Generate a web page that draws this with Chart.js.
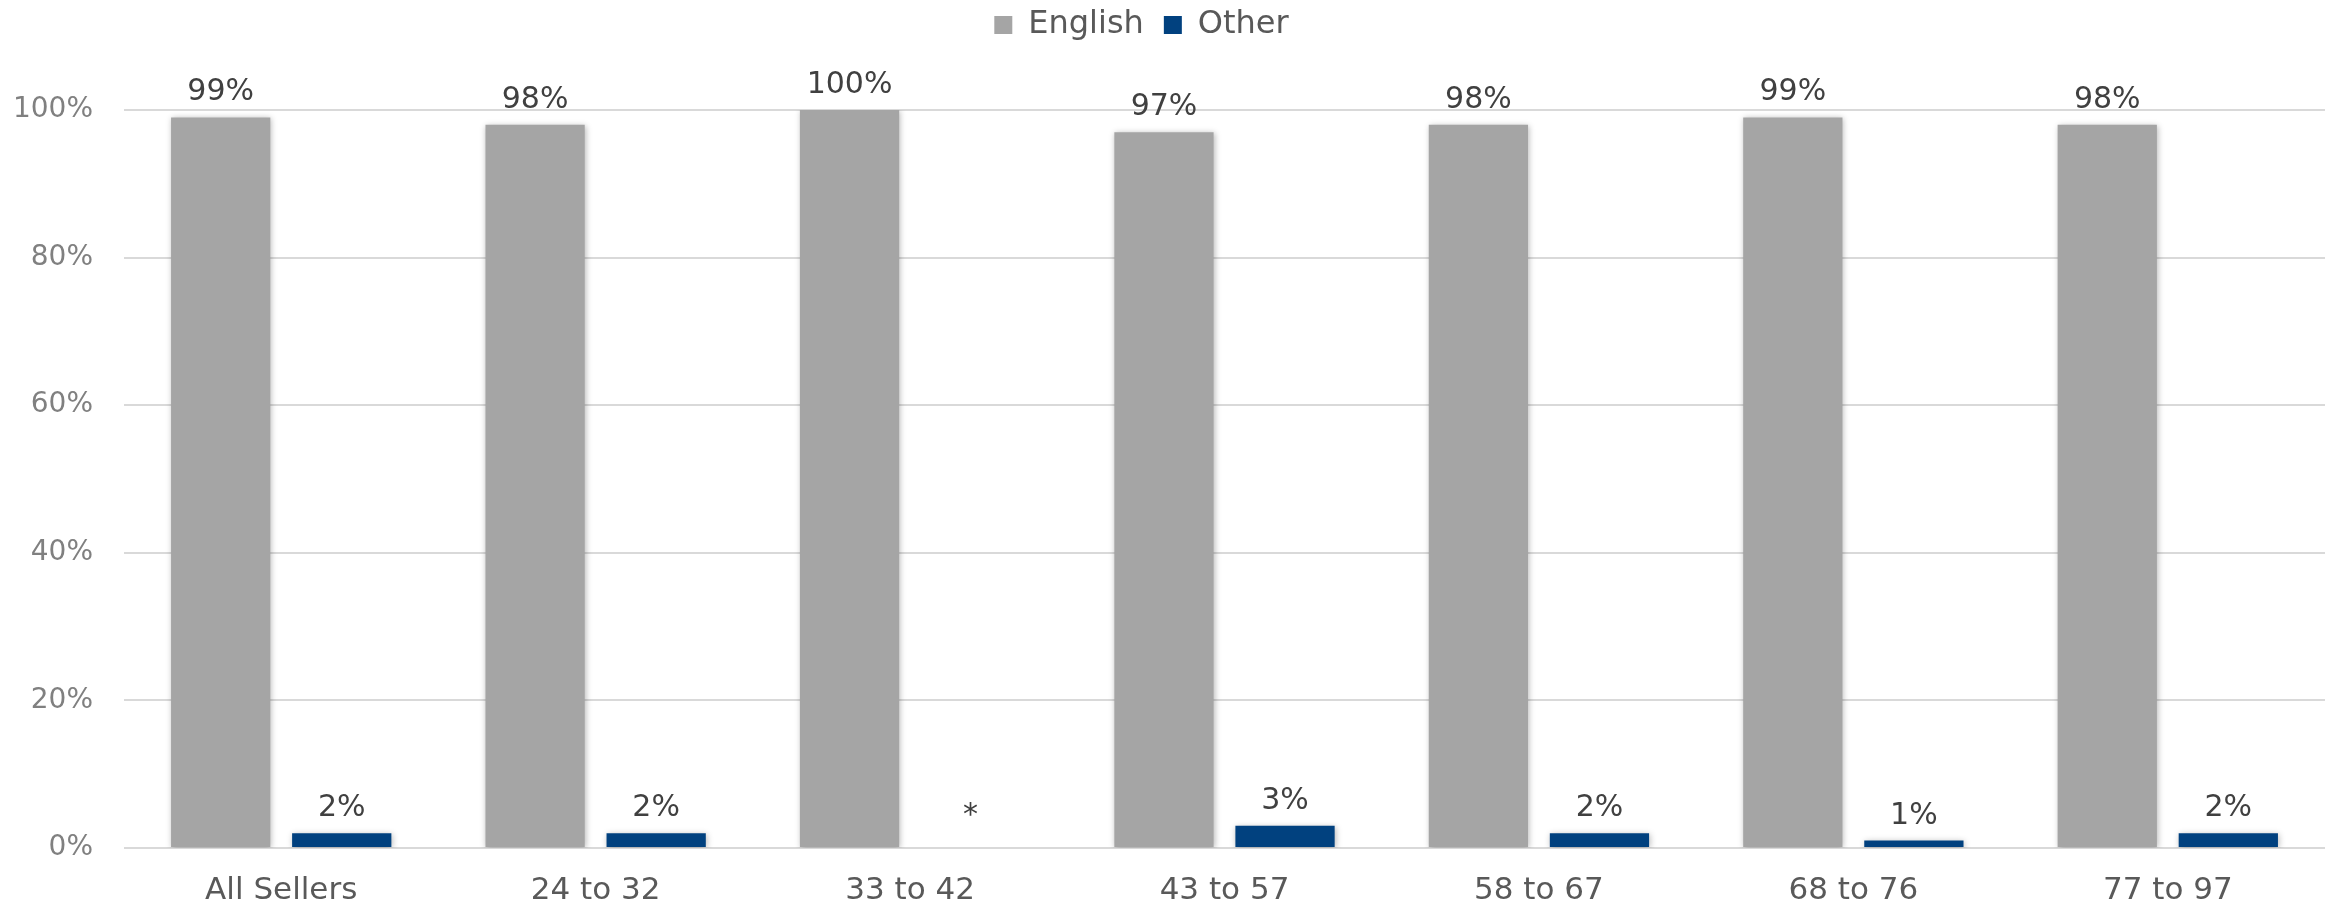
<!DOCTYPE html>
<html>
<head>
<meta charset="utf-8">
<script src="https://cdn.jsdelivr.net/npm/chart.js"></script>
<style>
  html, body { margin: 0; padding: 0; background: #fff; }
  #wrap { width: 2338px; height: 909px; }
</style>
</head>
<body>
<div id="wrap"><canvas id="langChart" width="2338" height="909"></canvas></div>
<script>
// data
var categories = ['All Sellers', '24 to 32', '33 to 42', '43 to 57', '58 to 67', '68 to 76', '77 to 97'];
var englishValues = [99, 98, 100, 97, 98, 99, 98];
var otherValues = [2, 2, null, 3, 2, 1, 2];   // null = "*" (too small to report)
var yTicks = [0, 20, 40, 60, 80, 100];

var fontFamily = '"DejaVu Sans", sans-serif';

// give the legend some extra room below it, and nudge it a bit left
var legendSpace = {
  id: 'legendSpace',
  beforeInit: function(chart) {
    var origFit = chart.legend.fit;
    chart.legend.fit = function() {
      origFit.bind(chart.legend)();
      this.height += 59;
    };
  },
  beforeDraw: function(chart) {
    chart.legend.left -= 21;
    chart.legend.right -= 21;
  }
};

// soft shadow under the bars
var barShadow = {
  id: 'barShadow',
  beforeDatasetsDraw: function(chart) {
    var c = chart.ctx;
    c.save();
    c.shadowColor = 'rgba(0,0,0,0.28)';
    c.shadowBlur = 6;
    c.shadowOffsetX = 1;
    c.shadowOffsetY = 1;
  },
  afterDatasetsDraw: function(chart) {
    chart.ctx.restore();
  }
};

// value labels above bars
var barLabels = {
  id: 'barLabels',
  afterDatasetsDraw: function(chart) {
    var c = chart.ctx;
    c.save();
    c.font = '30px ' + fontFamily;
    c.fillStyle = '#404040';
    c.textAlign = 'center';
    c.textBaseline = 'alphabetic';
    chart.data.datasets.forEach(function(ds, i) {
      var meta = chart.getDatasetMeta(i);
      meta.data.forEach(function(bar, j) {
        var v = ds.data[j];
        if (v === null || v === undefined) {
          var yBase = chart.scales.y.getPixelForValue(0);
          c.fillText('*', bar.x, yBase - 24);
        } else {
          c.fillText(v + '%', bar.x, bar.y - 17);
        }
      });
    });
    c.restore();
  }
};

new Chart(document.getElementById('langChart'), {
  type: 'bar',
  data: {
    labels: categories,
    datasets: [
      {
        label: 'English',
        data: englishValues,
        backgroundColor: '#A5A5A5',
        categoryPercentage: 0.77,
        barPercentage: 0.82
      },
      {
        label: 'Other',
        data: otherValues,
        backgroundColor: '#01417F',
        categoryPercentage: 0.77,
        barPercentage: 0.82
      }
    ]
  },
  options: {
    responsive: false,
    animation: false,
    layout: { padding: { top: -11, right: 13, bottom: 4, left: 0 } },
    plugins: {
      legend: {
        position: 'top',
        labels: {
          font: { family: fontFamily, size: 32 },
          color: '#595959',
          boxWidth: 18,
          boxHeight: 18,
          padding: 20
        }
      },
      tooltip: { enabled: false }
    },
    scales: {
      x: {
        grid: { display: false, drawTicks: false },
        border: { display: false },
        ticks: {
          font: { family: fontFamily, size: 31 },
          color: '#595959',
          padding: 24
        },
        afterFit: function(scale) { scale.height = 57; }
      },
      y: {
        min: 0,
        max: 100,
        afterBuildTicks: function(scale) {
          scale.ticks = yTicks.map(function(v) { return { value: v }; });
        },
        grid: { color: '#D9D9D9', lineWidth: 2, drawTicks: false },
        border: { display: false },
        ticks: {
          font: { family: fontFamily, size: 28 },
          color: '#808080',
          padding: 31,
          callback: function(v) { return v + '%'; }
        },
        afterFit: function(scale) { scale.width = 124; }
      }
    }
  },
  plugins: [legendSpace, barShadow, barLabels]
});
</script>
</body>
</html>
